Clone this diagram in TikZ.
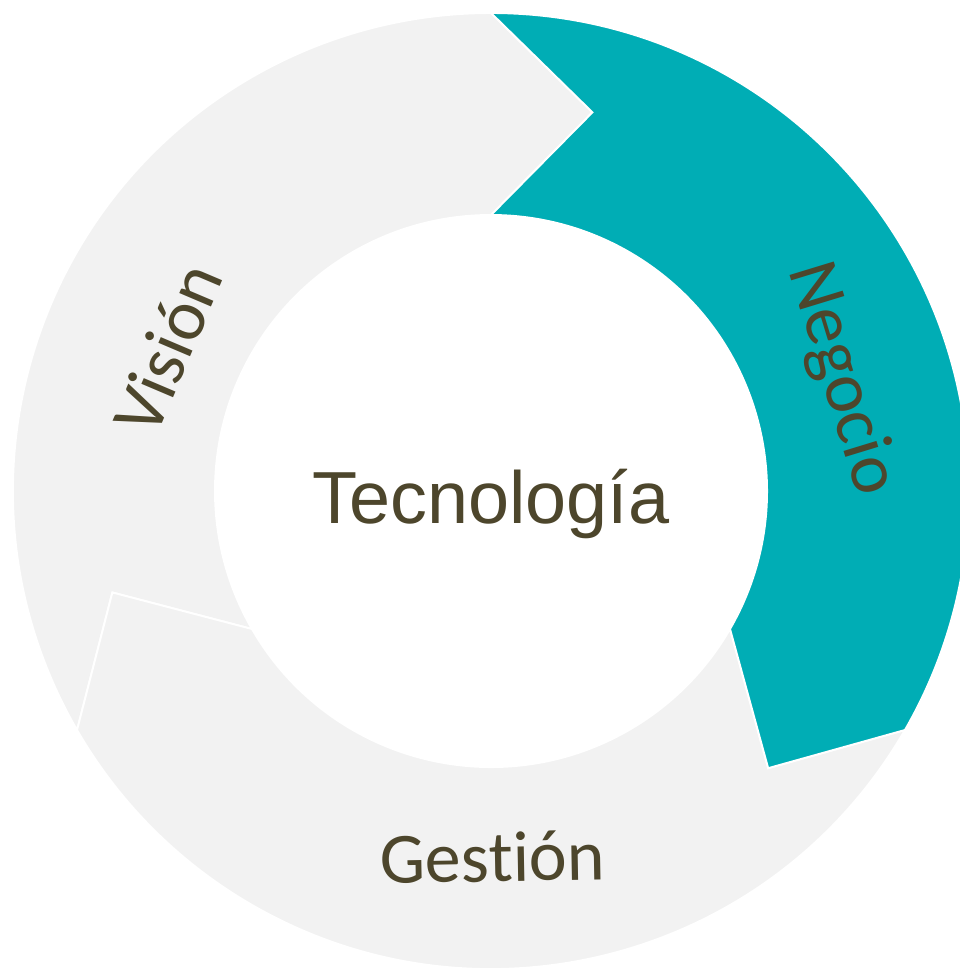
\documentclass[tikz,border=0pt]{standalone}
\usepackage{fontspec}
\setmainfont{Liberation Sans}
\newfontfamily\labelfont[Ligatures=NoCommon]{Carlito}
\usepackage{xcolor}
\usepackage{tikz}

\definecolor{ringteal}{RGB}{0,173,181}
\definecolor{ringgray}{RGB}{242,242,242}
\definecolor{labeltext}{RGB}{77,70,44}

\def\rOut{9.56cm}
\def\rIn{5.52cm}
\def\rTip{7.84cm}

\begin{document}
\begin{tikzpicture}[segment/.style={draw=white, line width=1.1pt, line join=miter},
  ringlabel/.style={text=labeltext, font=\labelfont\fontsize{41}{49}\selectfont}]
\useasboundingbox (-9.82,-9.54) rectangle (9.36,9.82);

% ring segments, clockwise
\draw[segment, fill=ringgray] (210:\rOut) arc[start angle=210, end angle=90, radius=\rOut] -- (75:\rTip) -- (90:\rIn) arc[start angle=90, end angle=210, radius=\rIn] -- (195:\rTip) -- cycle;
\draw[segment, fill=ringgray] (-30:\rOut) arc[start angle=-30, end angle=-150, radius=\rOut] -- (-165:\rTip) -- (-150:\rIn) arc[start angle=-150, end angle=-30, radius=\rIn] -- (-45:\rTip) -- cycle;
\draw[segment, fill=ringteal] (90:\rOut) arc[start angle=90, end angle=-30, radius=\rOut] -- (-45:\rTip) -- (-30:\rIn) arc[start angle=-30, end angle=90, radius=\rIn] -- (75:\rTip) -- cycle;

\node[text=labeltext, font=\fontsize{42}{50}\selectfont] (tecnologia) at (0,-0.26) {Tecnología};
\node[ringlabel, rotate=-73] (negocio) at (7.01,2.24) {Negocio};
\node[ringlabel, rotate=1] (gestion) at (0.03,-7.32) {Gestión};
\node[ringlabel, rotate=67] (vision) at (-6.47,2.85) {Visión};
\end{tikzpicture}
\end{document}
